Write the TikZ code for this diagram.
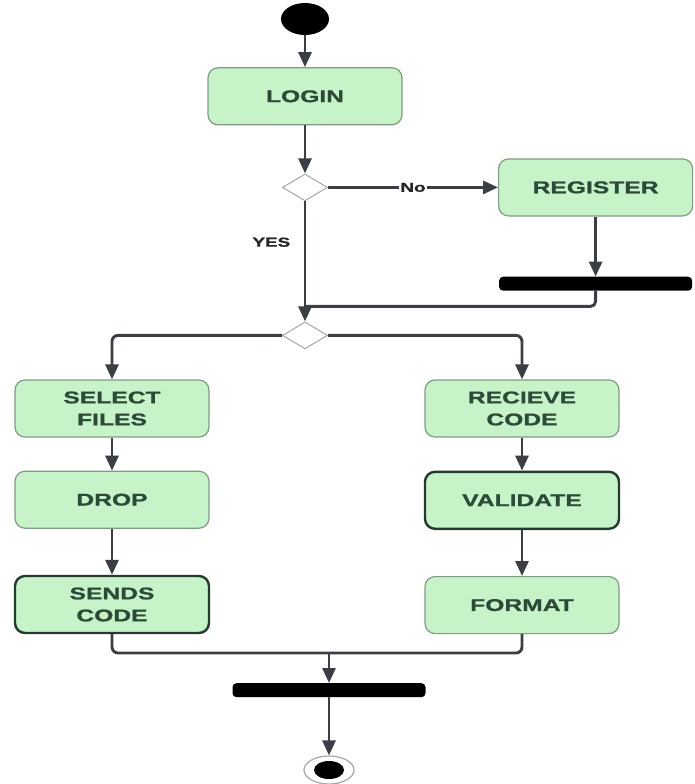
\documentclass[tikz,border=0pt]{standalone}
\usepackage{fontspec}
\setmainfont{Liberation Sans}[FakeStretch=1.45,BoldFeatures={FakeBold=1}]
\usetikzlibrary{arrows.meta,positioning,shapes.geometric}
\definecolor{boxfill}{HTML}{C6F4C8}
\definecolor{boxline}{HTML}{7F9C82}
\definecolor{boxtext}{HTML}{2C4A37}
\definecolor{flow}{HTML}{3B3E45}

\begin{document}
\begin{tikzpicture}[
  x=1pt, y=1pt,
  >={Triangle[length=15pt,width=13pt]},
  flowline/.style={draw=flow,line width=2.9pt},
  arr/.style={flowline,->},
  act/.style={draw=boxline,line width=1.2pt,fill=boxfill,rounded corners=10pt,minimum width=194pt,minimum height=57pt,align=center,text=boxtext,font=\bfseries\fontsize{17}{22}\selectfont},
  acthi/.style={act,draw=boxtext!80!black,line width=2.4pt},
  choice/.style={diamond,draw=gray!70,line width=1pt,fill=white,minimum width=45pt,minimum height=27pt,inner sep=0pt},
  sync/.style={fill=black,rounded corners=4pt,minimum width=193pt,minimum height=14pt,inner sep=0pt},
  lbl/.style={font=\bfseries\fontsize{13}{15}\selectfont,text=black!85}]
  \useasboundingbox (0,0) rectangle (695,-784);
  \node[ellipse,fill=black,minimum width=48pt,minimum height=32pt,inner sep=0pt] (start) at (305,-19) {};
  \node[act,below=32pt of start] (login) {LOGIN};
  \node[choice,below=48pt of login] (dec1) {};
  \node[act,right=170pt of dec1] (register) {REGISTER};
  \node[sync,below=60pt of register] (bar1) {};
  \node[choice,below=120pt of dec1] (dec2) {};
  \node[act,below=30pt of dec2,xshift=-193pt] (selfiles) {SELECT\\FILES};
  \node[act,below=33pt of selfiles] (drop) {DROP};
  \node[acthi,below=46pt of drop] (sends) {SENDS\\CODE};
  \node[act,below=30pt of dec2,xshift=217pt] (recieve) {RECIEVE\\CODE};
  \node[acthi,below=33pt of recieve] (validate) {VALIDATE};
  \node[act,below=46pt of validate] (format) {FORMAT};
  \coordinate (join) at (329,-653);
  \node[sync,below=30pt of join] (bar2) {};
  \node[ellipse,draw=gray!70,line width=1.2pt,fill=white,minimum width=50pt,minimum height=28pt,inner sep=0pt,below=58pt of bar2] (fin) {};
  \node[ellipse,fill=black,minimum width=30pt,minimum height=18pt,inner sep=0pt] (finin) at (fin) {};
  % top part
  \draw[arr] (start) -- (login);
  \draw[arr] (login) -- (dec1);
  \draw[arr] (dec1) -- node[lbl,fill=white,inner sep=1pt,midway] {No} (register);
  \draw[arr] (register) -- (bar1);
  \draw[arr] (dec1) -- node[lbl,pos=0.34,left=10pt] {YES} (dec2);
  \draw[flowline,rounded corners=5pt] (bar1.south) |- ([yshift=15pt]dec2.north);
  % branches
  \draw[arr,rounded corners=6pt] (dec2.west) -| (selfiles.north);
  \draw[arr,rounded corners=6pt] (dec2.east) -| (recieve.north);
  \draw[arr] (selfiles) -- (drop);
  \draw[arr] (drop) -- (sends);
  \draw[arr] (recieve) -- (validate);
  \draw[arr] (validate) -- (format);
  % merge
  \draw[flowline,rounded corners=6pt] (sends.south) |- (join) -| (format.south);
  \draw[arr] (join) -- (bar2);
  \draw[arr] (bar2) -- (fin);
\end{tikzpicture}
\end{document}
